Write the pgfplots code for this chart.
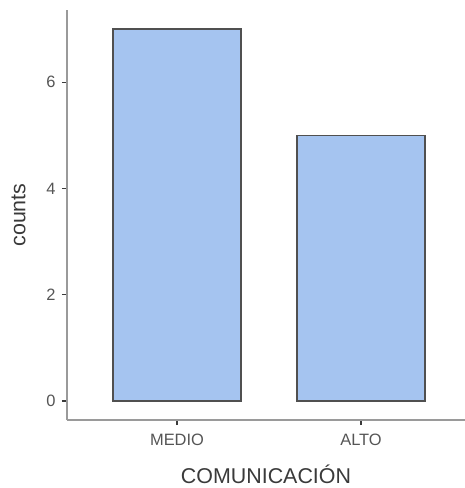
\documentclass[border=0pt]{standalone}
\usepackage{pgfplots}
\pgfplotsset{compat=1.18}
\usepackage{fontspec}
\setmainfont{Liberation Sans}
\definecolor{barfill}{HTML}{A5C4F0}
\definecolor{baredge}{HTML}{505050}
\definecolor{axisgray}{HTML}{9A9A9A}
\definecolor{ticktext}{HTML}{555555}
\definecolor{titletext}{HTML}{3A3A3A}
\begin{document}
\begin{tikzpicture}
\begin{axis}[
  at={(0,0)}, anchor=south west,
  scale only axis,
  width=398bp, height=410bp,
  xmin=-0.598, xmax=1.565,
  ymin=-0.357, ymax=7.357,
  axis x line*=bottom, axis y line*=left,
  axis line style={axisgray, line width=1.6bp},
  xtick=data, xticklabels={MEDIO,ALTO},
  ytick={0,2,4,6},
  tick align=outside,
  major tick length=5bp,
  tick style={color=titletext, line width=1.2bp},
  /pgf/number format/assume math mode=true,
  ticklabel style={font=\fontsize{16.5}{17}\selectfont, text=ticktext},
  xticklabel style={yshift=-6bp},
  yticklabel style={xshift=-3bp},
  xlabel={COMUNICACIÓN}, ylabel={counts},
  label style={font=\fontsize{21.5}{22}\selectfont, text=titletext},
  xlabel style={at={(axis description cs:0.5,-0.1317)}, anchor=center},
  ylabel style={at={(axis description cs:-0.122,0.5)}, anchor=center, rotate=0},
  ybar, bar width=128bp,
  bar shift=0pt,
]
\addplot[fill=barfill, draw=baredge, line width=1.3bp] coordinates {(0,7) (1,5)};
\end{axis}
\pgfresetboundingbox
\useasboundingbox (-67bp,-68bp) rectangle (398bp,420bp);
\end{tikzpicture}
\end{document}
